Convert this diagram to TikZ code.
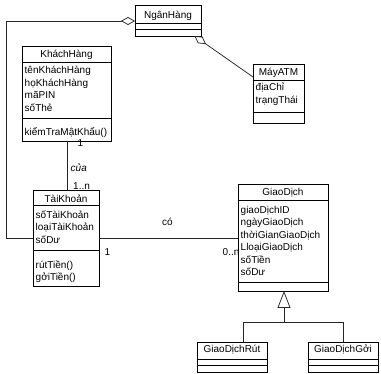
\documentclass[tikz,border=0pt]{standalone}
\usepackage{fontspec}
\setmainfont{Liberation Sans}
\usetikzlibrary{arrows.meta}
\begin{document}
\begin{tikzpicture}[x=1pt,y=-1pt,
  cls/.style={draw=black, line width=0.9pt, inner sep=0pt, outer sep=0pt, anchor=north west},
  ttl/.style={anchor=base, inner sep=0pt, font=\fontsize{10}{12.5}\selectfont},
  attr/.style={anchor=north west, inner sep=0pt, align=left, font=\fontsize{10}{12.5}\selectfont},
  lbl/.style={inner sep=0pt, anchor=base west, font=\fontsize{10}{12}\selectfont},
  sepline/.style={line width=0.9pt},
  conn/.style={draw=black!85, line width=0.75pt},
  aggr/.style={conn, {Diamond[open,length=14pt,width=8pt]}-},
  gener/.style={conn, -{Triangle[open,length=17pt,width=13pt]}}
]
\useasboundingbox (0,0) rectangle (381,374);

% ---- NganHang
\node[cls, minimum width=66pt, minimum height=31pt] (nh) at (135,5) {};
\node[ttl] (nhT) at (168,18.2) {NgânHàng};
\draw[sepline] (135,23) -- (201,23);
\draw[sepline] (135,29) -- (201,29);

% ---- KhachHang
\node[cls, minimum width=89pt, minimum height=95pt] (kh) at (22,46) {};
\node[ttl] (khT) at (66.5,58) {KháchHàng};
\draw[sepline] (22,62) -- (111,62);
\node[attr] (khA) at (24.5,63.5) {\rule{0pt}{10pt}tênKháchHàng\\họKháchHàng\\mãPIN\\sốThẻ};
\draw[sepline] (22,118) -- (111,118);
\node[attr] (khM) at (24.5,125) {\rule{0pt}{10pt}kiểmTraMậtKhẩu()};

% ---- MayATM
\node[cls, minimum width=51pt, minimum height=59pt] (atm) at (253,64) {};
\node[ttl] (atmT) at (278.5,75.5) {MáyATM};
\draw[sepline] (253,80) -- (304,80);
\node[attr] (atmA) at (255.5,80.5) {\rule{0pt}{10pt}địaChỉ\\trạngThái};
\draw[sepline] (253,112) -- (304,112);

% ---- TaiKhoan
\node[cls, minimum width=66pt, minimum height=96pt] (tk) at (33,190) {};
\node[ttl] (tkT) at (66,202.2) {TàiKhoản};
\draw[sepline] (33,205) -- (99,205);
\node[attr] (tkA) at (35.5,208) {\rule{0pt}{10pt}sốTàiKhoản\\loạiTàiKhoản\\sốDư};
\draw[sepline] (33,250) -- (99,250);
\node[attr] (tkM) at (35.5,258) {\rule{0pt}{10pt}rútTiền()\\gởiTiền()};

% ---- GiaoDich
\node[cls, minimum width=90pt, minimum height=107pt] (gd) at (238,184) {};
\node[ttl] (gdT) at (283,196) {GiaoDịch};
\draw[sepline] (238,200) -- (328,200);
\node[attr] (gdA) at (240.5,203) {\rule{0pt}{10pt}giaoDịchID\\ngàyGiaoDịch\\thờiGianGiaoDịch\\LloạiGiaoDịch\\sốTiền\\sốDư};
\draw[sepline] (238,282) -- (328,282);

% ---- GiaoDichRut
\node[cls, minimum width=70pt, minimum height=30pt] (gr) at (197,342) {};
\node[ttl] (grT) at (232,353) {GiaoDịchRút};
\draw[sepline] (197,359) -- (267,359);
\draw[sepline] (197,365) -- (267,365);

% ---- GiaoDichGoi
\node[cls, minimum width=70pt, minimum height=30pt] (gg) at (308,342) {};
\node[ttl] (ggT) at (343,353) {GiaoDịchGởi};
\draw[sepline] (308,359) -- (378,359);
\draw[sepline] (308,365) -- (378,365);

% ---- connectors
\coordinate (a1) at (6,21);
\coordinate (a2) at (6,238);
\draw[aggr] (nh.west |- a1) -- (a1) -- (a2) -- (tk.west |- a2);

\coordinate (a3) at (194.5,36);
\coordinate (a4) at (0,77);
\draw[aggr] (a3) -- (atm.west |- a4);

\coordinate (v1) at (67,0);
\draw[conn] (kh.south -| v1) -- (tk.north -| v1);
\node[lbl] (l1) at (77.5,146.5) {1};
\node[lbl, font=\fontsize{10}{12}\selectfont\itshape] (l2) at (70.5,171.5) {của};
\node[lbl] (l3) at (73,190) {1..n};

\coordinate (h1) at (0,238);
\draw[conn] (tk.east |- h1) -- (gd.west |- h1);
\node[lbl] (l4) at (162,226) {có};
\node[lbl] (l5) at (104.5,256) {1};
\node[lbl] (l6) at (222.5,256) {0..n};

\coordinate (g1) at (243,322);
\coordinate (g2) at (343,322);
\coordinate (g3) at (284,322);
\draw[conn] (gr.north -| g1) -- (g1) -- (g2) -- (gg.north -| g2);
\draw[gener] (g3) -- (gd.south -| g3);
\end{tikzpicture}
\end{document}
